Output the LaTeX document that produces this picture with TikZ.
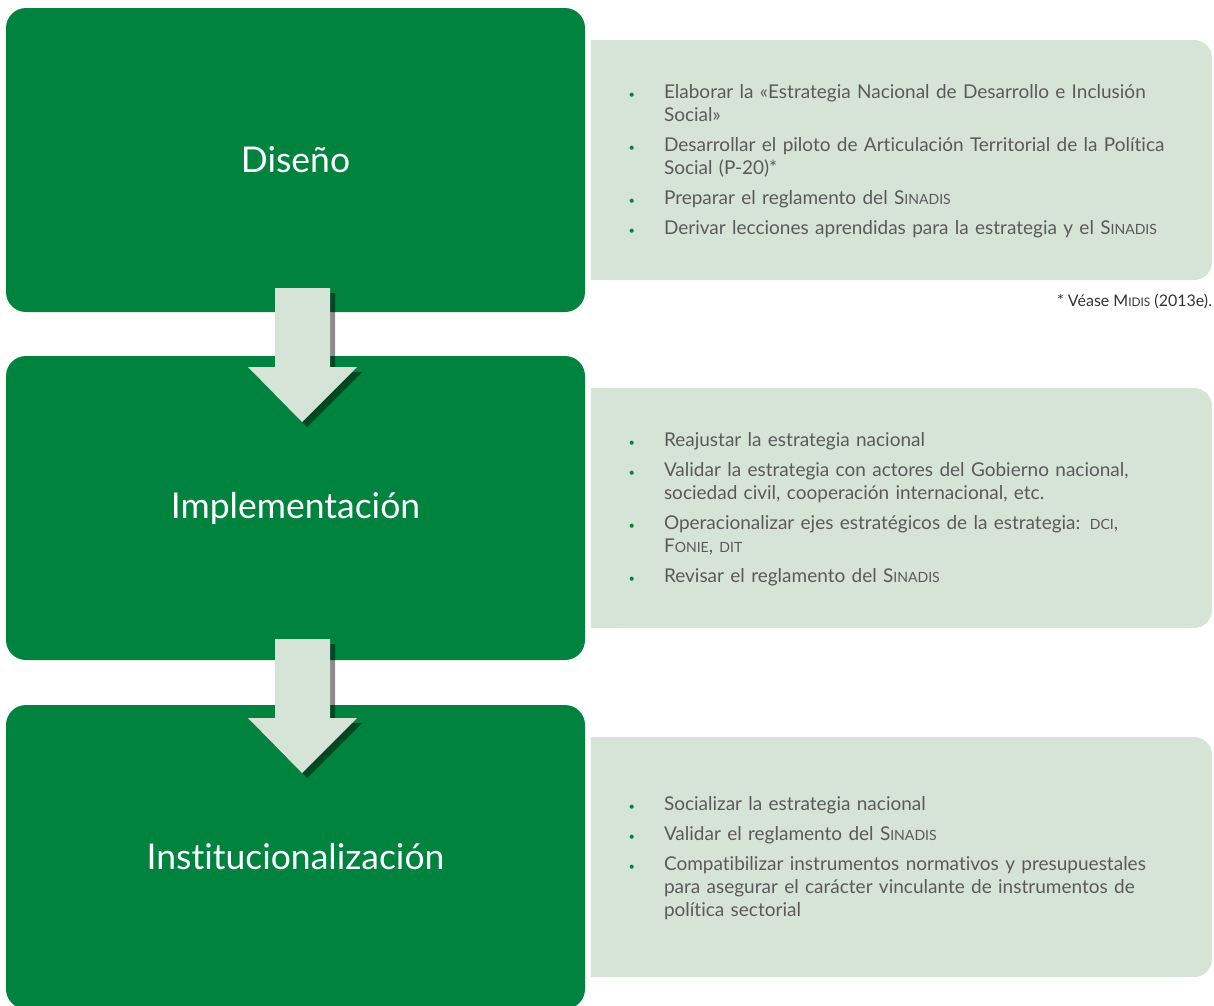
\documentclass[tikz,border=0pt]{standalone}
\usepackage{fontspec}
\setmainfont{Lato}[Ligatures=NoCommon]
\usepackage{graphicx}
\usepackage{enumitem}
\usetikzlibrary{shadows}

\definecolor{verdeFase}{HTML}{00833F}
\definecolor{verdeClaro}{HTML}{D6E4D8}
\definecolor{textoGris}{HTML}{5A5A5A}

% versalitas a mano
\newcommand\smc[1]{\scalebox{0.74}{#1}}
\setlist[itemize]{label={\textcolor{verdeFase}{\fontsize{11}{11}\selectfont\textbullet}}, leftmargin=37pt, labelsep=29pt, topsep=0pt, partopsep=0pt, parsep=0pt, itemsep=7pt}

\begin{document}
\begin{tikzpicture}[x=1pt,y=-1pt,
fasebox/.style={rectangle, rounded corners=20pt, fill=verdeFase, minimum width=579pt, minimum height=304pt, text=white, font=\fontsize{35.5}{40}\selectfont},
accionbox/.style={rectangle, rounded corners=18pt, fill=verdeClaro, minimum width=621pt, minimum height=240pt, inner sep=0pt},
acciontext/.style={anchor=west, text width=560pt, inner sep=0pt, text=textoGris, font=\fontsize{19}{23}\selectfont},
flecha/.style={fill=verdeClaro, drop shadow={shadow xshift=5pt, shadow yshift=-5pt, opacity=0.45, fill=black}},
]
\useasboundingbox (0,0) rectangle (1214,1005);

% fases
\node[fasebox] (diseno) at (295.5,160) {Diseño};
\node[fasebox] (implem) at (295.5,508) {Implementación};
\node[fasebox] (instit) at (295.5,857) {Institucionalización};

% cajas de acciones
\node[accionbox] (acc1) at (901.5,160) {};
\node[accionbox] (acc2) at (901.5,508) {};
\node[accionbox] (acc3) at (901.5,857) {};
\foreach \c in {acc1,acc2,acc3}
  \fill[verdeClaro] (\c.north west) rectangle (\c.south);

\node[acciontext] (lista1) at ([xshift=36pt,yshift=3pt]acc1.west) {%
\begin{itemize}
\item Elaborar la «Estrategia Nacional de Desarrollo e Inclusión\newline Social»
\item Desarrollar el piloto de Articulación Territorial de la Política\newline Social (P-20)*
\item Preparar el reglamento del S\smc{INADIS}
\item Derivar lecciones aprendidas para la estrategia y el S\smc{INADIS}
\end{itemize}};
\node[acciontext] (lista2) at ([xshift=36pt,yshift=3pt]acc2.west) {%
\begin{itemize}
\item Reajustar la estrategia nacional
\item Validar la estrategia con actores del Gobierno nacional,\newline sociedad civil, cooperación internacional, etc.
\item Operacionalizar ejes estratégicos de la estrategia: \smc{DCI},\newline F\smc{ONIE}, \smc{DIT}
\item Revisar el reglamento del S\smc{INADIS}
\end{itemize}};
\node[acciontext] (lista3) at ([xshift=36pt,yshift=3pt]acc3.west) {%
\begin{itemize}
\item Socializar la estrategia nacional
\item Validar el reglamento del S\smc{INADIS}
\item Compatibilizar instrumentos normativos y presupuestales\newline para asegurar el carácter vinculante de instrumentos de\newline política sectorial
\end{itemize}};

\node[anchor=east, inner sep=0pt, text=black!80, font=\fontsize{16}{18}\selectfont] (nota) at ([yshift=-21pt]acc1.south east) {* Véase M\smc{IDIS} (2013e).};

% flechas entre fases
\foreach \y in {288,639}
  \fill[flecha] (275,\y) -- (330,\y) -- (330,\y+79) -- (357,\y+79) -- (302,\y+134) -- (248,\y+79) -- (275,\y+79) -- cycle;
\end{tikzpicture}
\end{document}
